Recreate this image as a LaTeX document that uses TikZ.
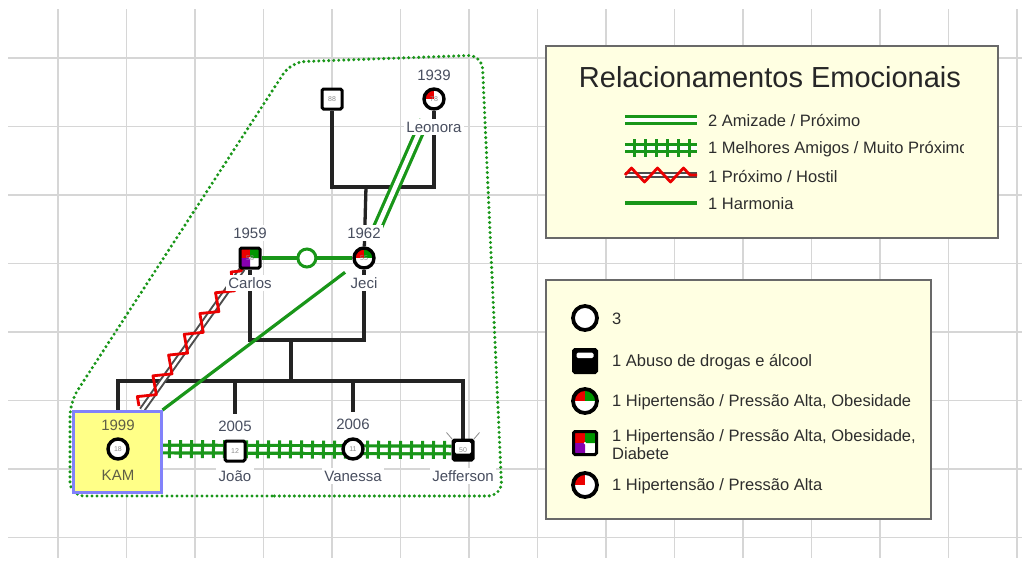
\documentclass[tikz,border=0pt]{standalone}
\usepackage{fontspec}
\setmainfont{Liberation Sans}
\usetikzlibrary{decorations.pathmorphing,decorations.pathreplacing,calc}
\pgfdeclarelayer{gridlayer}
\pgfdeclarelayer{linelayer}
\pgfsetlayers{gridlayer,linelayer,main}

\definecolor{gridc}{RGB}{214,214,214}
\definecolor{grnc}{RGB}{25,150,25}
\definecolor{legfill}{RGB}{255,255,226}
\definecolor{legdraw}{RGB}{105,105,105}
\definecolor{kamfill}{RGB}{255,255,135}
\definecolor{kamdraw}{RGB}{130,130,250}
\definecolor{labc}{RGB}{72,78,95}
\definecolor{kamtxt}{RGB}{95,95,70}
\definecolor{txtc}{RGB}{45,45,45}
\definecolor{hypc}{RGB}{235,0,0}
\definecolor{obc}{RGB}{0,150,0}
\definecolor{diac}{RGB}{135,0,175}
\definecolor{famc}{RGB}{35,35,35}

\tikzset{
  gridline/.style={draw=gridc, line width=1.7pt},
  famline/.style={draw=famc, line width=3.3pt},
  lab/.style={font=\fontsize{15}{15}\selectfont, text=labc, fill=white, inner sep=2.5pt},
  kamlab/.style={font=\fontsize{15}{15}\selectfont, text=kamtxt, inner sep=1pt},
  agetxt/.style={font=\fontsize{7}{7}\selectfont, text=black!45},
  person/.style={fill=white, draw=black, minimum size=20pt, inner sep=0pt, agetxt},
  male/.style={person, rectangle, rounded corners=1.5pt, line width=3pt},
  female/.style={person, circle, line width=3.4pt},
  bigmale/.style={male, minimum size=23pt},
  bigfemale/.style={female, minimum size=24pt, line width=3.8pt},
  qh/.style={path picture={\fill[hypc] (path picture bounding box.center) rectangle (path picture bounding box.north west);}},
  qho/.style={path picture={
      \fill[hypc] (path picture bounding box.center) rectangle (path picture bounding box.north west);
      \fill[obc] (path picture bounding box.center) rectangle (path picture bounding box.north east);}},
  qhod/.style={path picture={
      \fill[hypc] (path picture bounding box.center) rectangle (path picture bounding box.north west);
      \fill[obc] (path picture bounding box.center) rectangle (path picture bounding box.north east);
      \fill[diac] (path picture bounding box.center) rectangle (path picture bounding box.south west);}},
  qdrug/.style={path picture={
      \fill[black] (path picture bounding box.south west) rectangle (path picture bounding box.north east);
      \fill[white] ([xshift=2pt,yshift=-2pt]path picture bounding box.north west) rectangle ([xshift=-2pt,yshift=-3.5pt]path picture bounding box.east);}},
  qdrugleg/.style={path picture={
      \fill[black] (path picture bounding box.south west) rectangle (path picture bounding box.north east);
      \fill[white] ([xshift=3pt,yshift=-3pt]path picture bounding box.north west) rectangle ([xshift=-3pt,yshift=3pt]path picture bounding box.east);}},
  amiz/.style={draw=grnc, line width=3.2pt, double=white, double distance=4.5pt},
  bestf/.style={draw=grnc, line width=3.2pt, double=white, double distance=4.5pt},
  bestticks/.style={draw=grnc, line width=3pt, decorate, decoration={ticks, segment length=11pt, amplitude=9pt}},
  hostbase/.style={draw=black!70, line width=2pt, double=white, double distance=2.6pt},
  hostzig/.style={draw=hypc, line width=2.8pt, line join=round, decorate, decoration={zigzag, segment length=26pt, amplitude=7pt}},
  harm/.style={draw=grnc, line width=3.2pt},
  harmknot/.style={circle, draw=grnc, fill=white, line width=3pt, minimum size=18pt, inner sep=0pt},
  bound/.style={draw=grnc, line width=3.4pt, line cap=round, dash pattern=on 0pt off 5pt, rounded corners=14pt},
  legbox/.style={draw=legdraw, fill=legfill, line width=2pt, inner sep=0pt, anchor=north west},
  legtxt/.style={font=\fontsize{16.5}{18}\selectfont, text=txtc, anchor=west, inner sep=0pt},
  kambox/.style={draw=kamdraw, fill=kamfill, line width=3pt, inner sep=0pt}
}

\begin{document}
\begin{tikzpicture}[x=1pt,y=-1pt]
\useasboundingbox (0,0) rectangle (1029,566);

% paper and background grid
\begin{pgfonlayer}{gridlayer}
  \fill[white] (0,0) rectangle (1029,566);
  \begin{scope}
    \clip (8,9) rectangle (1022,558);
    \foreach \i in {0,...,14} \draw[gridline] ({58+68.5*\i},9) -- ({58+68.5*\i},558);
    \foreach \j in {0,...,7} \draw[gridline] (8,{58+68.5*\j}) -- (1022,{58+68.5*\j});
  \end{scope}
\end{pgfonlayer}

% ---------- people ----------
\node[kambox, minimum width=88pt, minimum height=81pt] (kambox) at (117,452) {};

\node[male] (topm) at (332,99) {88};
\node[female, qh] (leonora) at (434,99) {78};
\node[male, qhod] (carlos) at (250,258) {58};
\node[female, qho] (jeci) at (364,258) {55};
\node[female] (kam) at (118,449) {18};
\node[male] (joao) at (235,451) {12};
\node[female] (vanessa) at (353,449) {11};
\node[male, qdrug] (jefferson) at (463,450) {50};

% small marks over Jefferson's corners
\draw[black!45, line width=0.8pt] ([xshift=-5pt,yshift=6pt]jefferson.north west) -- ([xshift=1pt,yshift=-1pt]jefferson.north west);
\draw[black!45, line width=0.8pt] ([xshift=5pt,yshift=6pt]jefferson.north east) -- ([xshift=-1pt,yshift=-1pt]jefferson.north east);

% names and years
\node[lab] (leonoraY) at (434,75) {1939};
\node[lab] (leonoraN) at (434,127) {Leonora};
\node[lab] (carlosY) at (250,233) {1959};
\node[lab] (carlosN) at (250,283) {Carlos};
\node[lab] (jeciY) at (364,233) {1962};
\node[lab] (jeciN) at (364,283) {Jeci};
\node[kamlab] (kamY) at (118,425) {1999};
\node[kamlab] (kamN) at (118,475) {KAM};
\node[lab] (joaoY) at (235,426) {2005};
\node[lab] (joaoN) at (235,476) {João};
\node[lab] (vanessaY) at (353,424) {2006};
\node[lab] (vanessaN) at (353,476) {Vanessa};
\node[lab] (jeffersonN) at (463,476) {Jefferson};

% ---------- connectors ----------
\begin{pgfonlayer}{linelayer}
  % household boundary
  \draw[bound] (286,496) -- (70,496) -- (70,402) -- (291,62) -- (482,55) -- (502,496) -- cycle;

  % family lines
  \coordinate (gp) at (366,187);
  \draw[famline] (topm) -- (topm |- gp) -- (leonora |- gp) -- (leonora);
  \draw[famline] (gp) -- (jeci);
  \coordinate (pu) at (291,340);
  \draw[famline] (carlos) -- (carlos |- pu) -- (jeci |- pu) -- (jeci);
  \coordinate (sib) at (291,381);
  \draw[famline] (pu) -- (sib);
  \draw[famline] (kam) -- (kam |- sib) -- (jefferson |- sib) -- (jefferson);
  \draw[famline] (joao |- sib) -- ([yshift=4pt]joaoY.north);
  \draw[famline] (vanessa |- sib) -- ([yshift=4pt]vanessaY.north);

  % emotional relationships
  \draw[amiz, shorten <=12pt, shorten >=12pt] (leonora) -- (jeci);
  \draw[harm, shorten >=12pt] (kambox.north east) -- (jeci);
  \draw[harm] (carlos) -- (jeci) node[midway, harmknot] (cjknot) {};
  \coordinate (kamtop) at ([xshift=25pt]kambox.north);
  \coordinate (hostend) at ($(carlos)!13pt!(kamtop)$);
  \draw[hostbase] (kamtop) -- (hostend);
  \draw[hostzig] ([xshift=-3pt,yshift=4pt]kamtop) -- (hostend);
  \coordinate (bfstart) at (kambox.east |- kam);
  \draw[bestf] (bfstart) -- (jefferson.west);
  \draw[bestticks] ([xshift=7pt]bfstart) -- (jefferson.west);
\end{pgfonlayer}

% ---------- legend: emotional relationships ----------
\node[legbox, minimum width=452pt, minimum height=192pt] (leg1) at (545,45) {};
\node[font=\fontsize{29}{29}\selectfont, text=black!85] (leg1title) at (770,77) {Relacionamentos Emocionais};

\draw[amiz] (625,120) -- (697,120);
\node[legtxt] (leg1a) at (708,121) {2 Amizade / Próximo};

\draw[bestf] (625,148) -- (697,148);
\draw[bestticks] (634,148) -- (697,148);
\begin{scope}
  \clip (700,135) rectangle (963,163);
  \node[legtxt] (leg1b) at (708,149) {1 Melhores Amigos / Muito Próximo};
\end{scope}

\draw[hostbase] (625,175) -- (697,175);
\draw[hostzig] (625,175) -- (697,175);
\node[legtxt] (leg1c) at (708,176) {1 Próximo / Hostil};

\draw[harm, line width=3.5pt] (625,203) -- (697,203);
\node[legtxt] (leg1d) at (708,204) {1 Harmonia};

% ---------- legend: conditions ----------
\node[legbox, minimum width=385pt, minimum height=239pt] (leg2) at (545,279) {};

\node[bigfemale] (ic1) at (585,318) {};
\node[legtxt] (lt1) at (612,319) {3};
\node[bigmale, qdrugleg] (ic2) at (585,361) {};
\node[legtxt] (lt2) at (612,362) {1 Abuso de drogas e álcool};
\node[bigfemale, qho] (ic3) at (585,401) {};
\node[legtxt] (lt3) at (612,402) {1 Hipertensão / Pressão Alta, Obesidade};
\node[bigmale, qhod] (ic4) at (585,443) {};
\node[legtxt, align=left] (lt4) at (612,445) {1 Hipertensão / Pressão Alta, Obesidade,\\Diabete};
\node[bigfemale, qh] (ic5) at (585,485) {};
\node[legtxt] (lt5) at (612,486) {1 Hipertensão / Pressão Alta};

\end{tikzpicture}
\end{document}
